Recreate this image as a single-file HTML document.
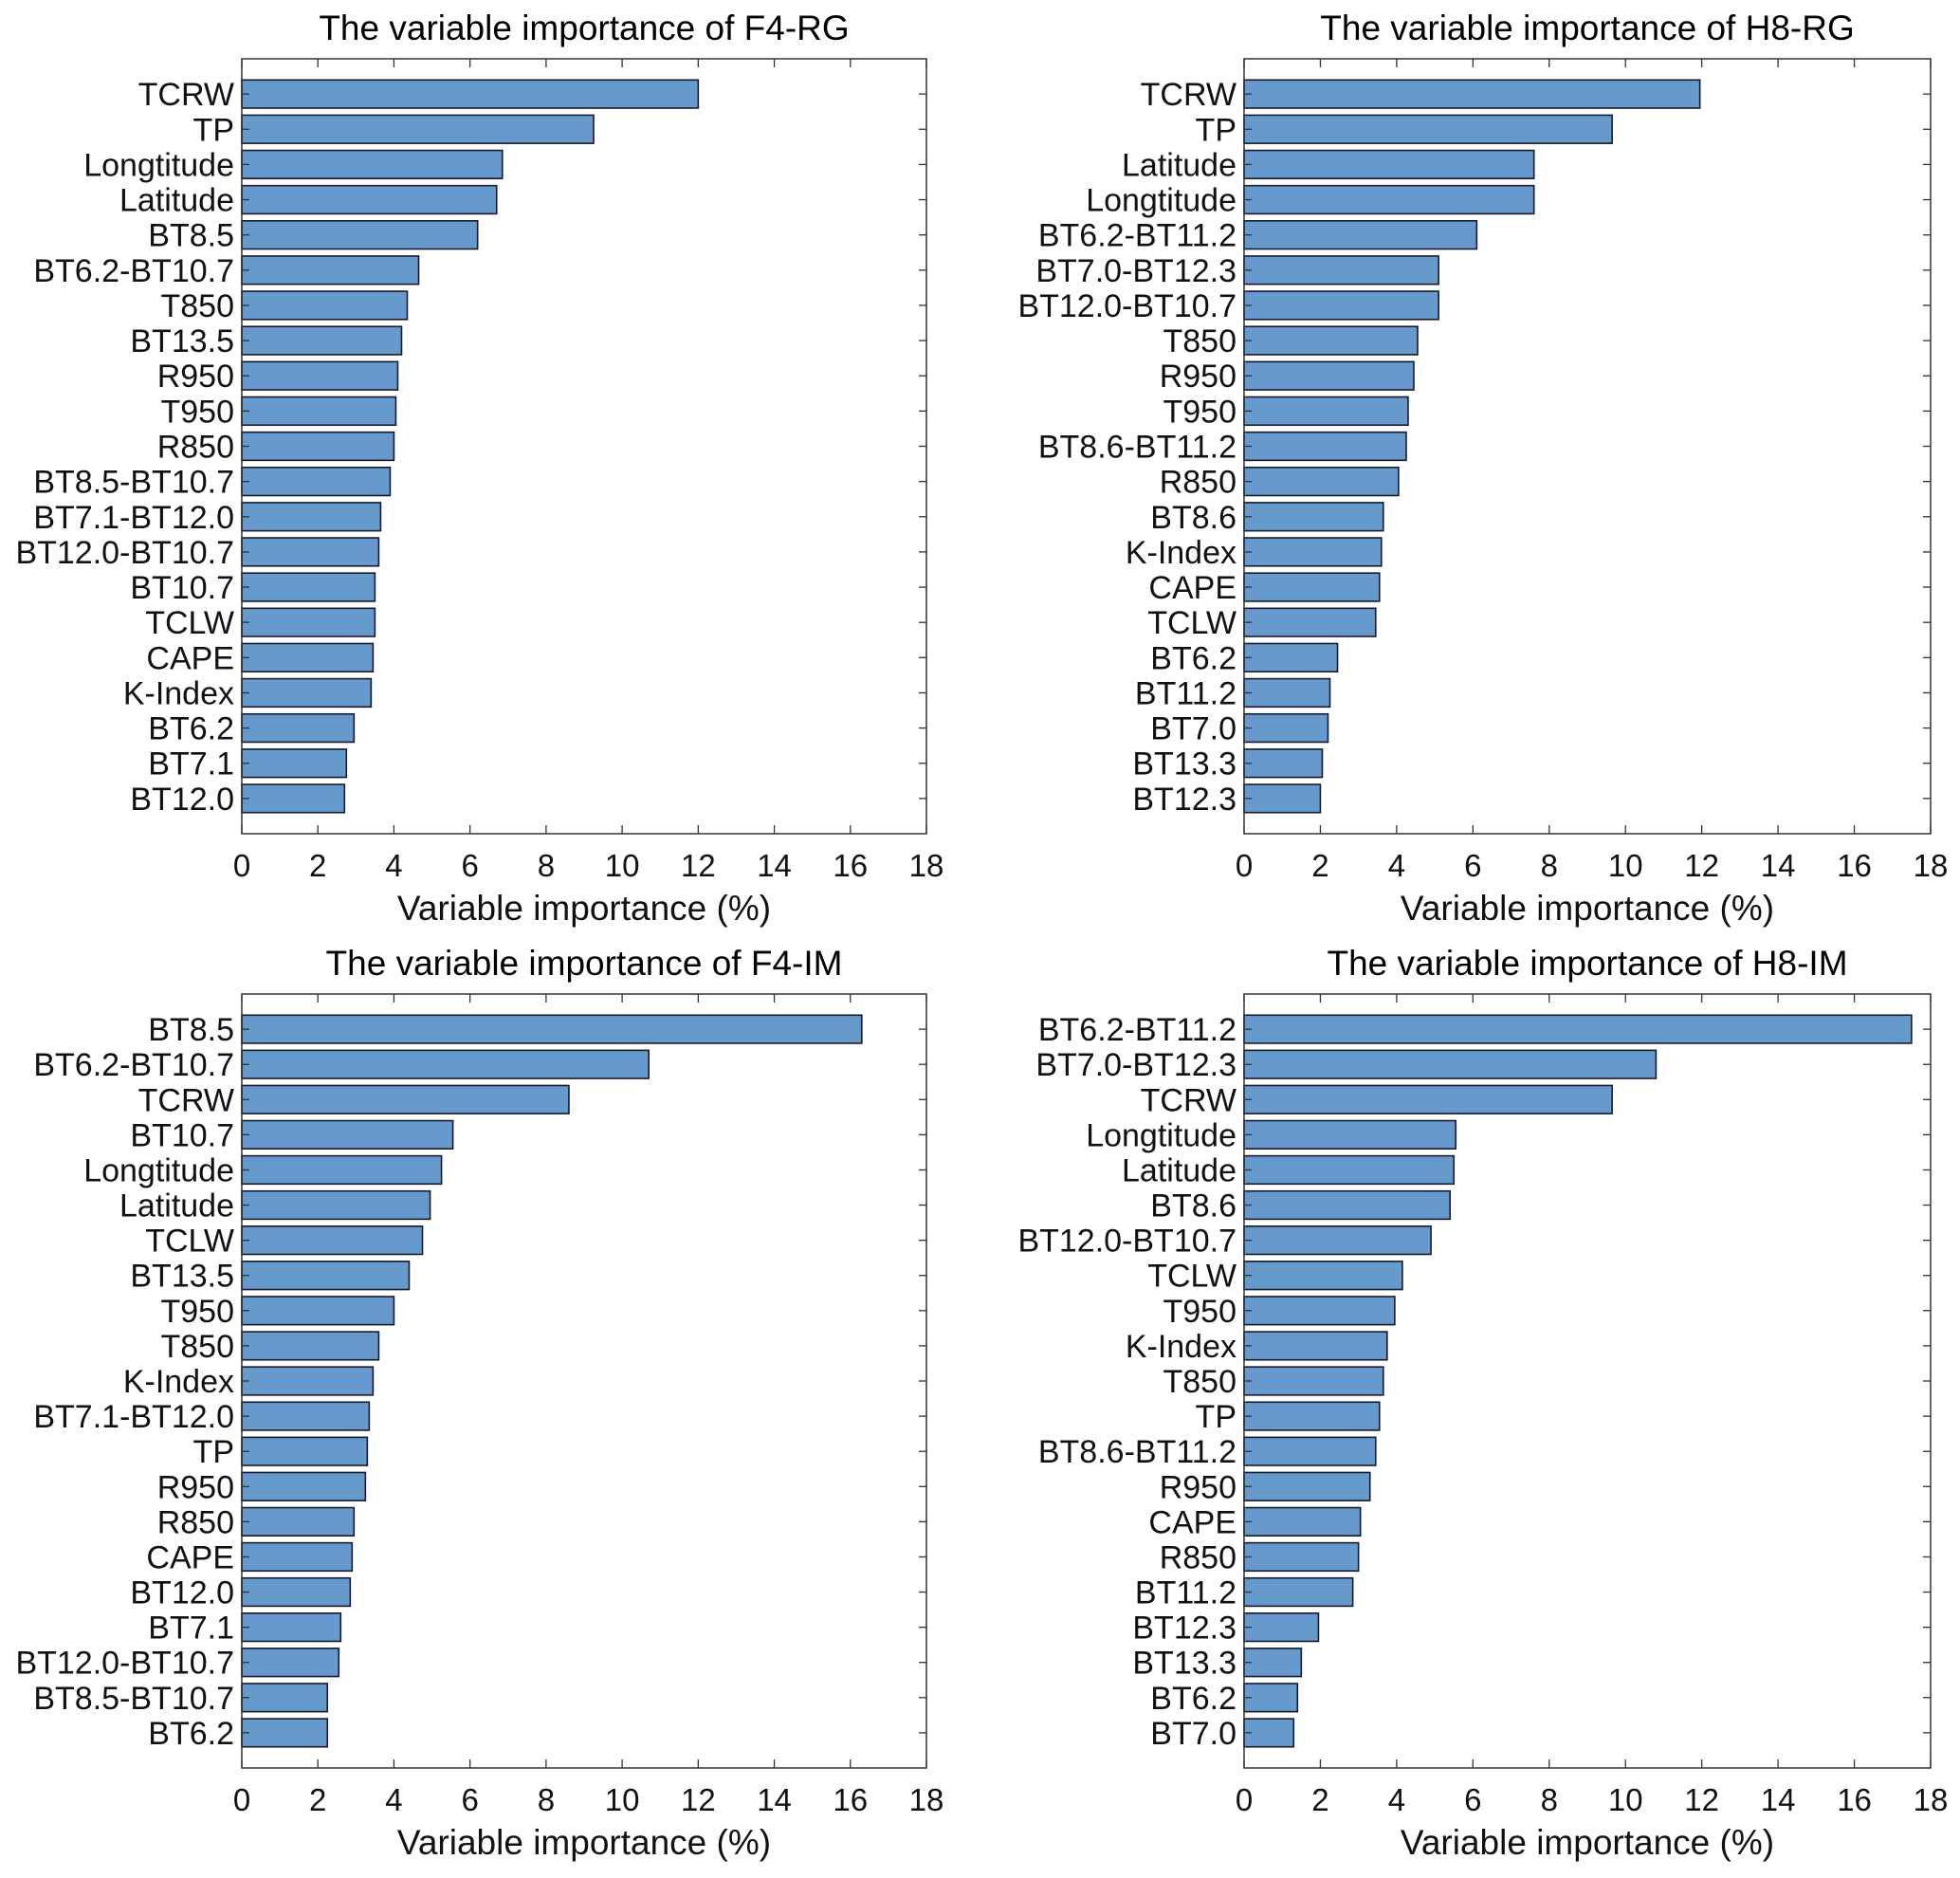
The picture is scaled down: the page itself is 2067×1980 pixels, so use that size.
<!DOCTYPE html>
<html><head><meta charset="utf-8"><style>
html,body{margin:0;padding:0;background:#fff;}
svg{display:block;font-family:"Liberation Sans",Arial,sans-serif;}
</style></head><body>
<svg id="fig" width="2067" height="1980" viewBox="0 0 2067 1980" xmlns="http://www.w3.org/2000/svg"></svg>
<script>
const ticks = [0,2,4,6,8,10,12,14,16,18];
const f4rgLabels = ["TCRW","TP","Longtitude","Latitude","BT8.5","BT6.2-BT10.7","T850","BT13.5","R950","T950","R850","BT8.5-BT10.7","BT7.1-BT12.0","BT12.0-BT10.7","BT10.7","TCLW","CAPE","K-Index","BT6.2","BT7.1","BT12.0"];
const f4rgValues = [12.0,9.25,6.85,6.7,6.2,4.65,4.35,4.2,4.1,4.05,4.0,3.9,3.65,3.6,3.5,3.5,3.45,3.4,2.95,2.75,2.7];
const h8rgLabels = ["TCRW","TP","Latitude","Longtitude","BT6.2-BT11.2","BT7.0-BT12.3","BT12.0-BT10.7","T850","R950","T950","BT8.6-BT11.2","R850","BT8.6","K-Index","CAPE","TCLW","BT6.2","BT11.2","BT7.0","BT13.3","BT12.3"];
const h8rgValues = [11.95,9.65,7.6,7.6,6.1,5.1,5.1,4.55,4.45,4.3,4.25,4.05,3.65,3.6,3.55,3.45,2.45,2.25,2.2,2.05,2.0];
const f4imLabels = ["BT8.5","BT6.2-BT10.7","TCRW","BT10.7","Longtitude","Latitude","TCLW","BT13.5","T950","T850","K-Index","BT7.1-BT12.0","TP","R950","R850","CAPE","BT12.0","BT7.1","BT12.0-BT10.7","BT8.5-BT10.7","BT6.2"];
const f4imValues = [16.3,10.7,8.6,5.55,5.25,4.95,4.75,4.4,4.0,3.6,3.45,3.35,3.3,3.25,2.95,2.9,2.85,2.6,2.55,2.25,2.25];
const h8imLabels = ["BT6.2-BT11.2","BT7.0-BT12.3","TCRW","Longtitude","Latitude","BT8.6","BT12.0-BT10.7","TCLW","T950","K-Index","T850","TP","BT8.6-BT11.2","R950","CAPE","R850","BT11.2","BT12.3","BT13.3","BT6.2","BT7.0"];
const h8imValues = [17.5,10.8,9.65,5.55,5.5,5.4,4.9,4.15,3.95,3.75,3.65,3.55,3.45,3.3,3.05,3.0,2.85,1.95,1.5,1.4,1.3];

const NS = "http://www.w3.org/2000/svg";
const fig = document.getElementById('fig');
function mk(tag, attrs, parent){const e=document.createElementNS(NS,tag);for(const k in attrs)e.setAttribute(k,attrs[k]);parent.appendChild(e);return e;}

function panel(key, title, labels, values, L, R, T, B){
  const g = mk('g',{},fig);
  
  
  const xs = v => L + (v/18)*(R-L);
  const n = labels.length;
  const rowH = (B-T)/(n+1);
  const ys = i => T + (i+1)*rowH;
  const t = mk('text',{x:(L+R)/2,y:T-20,'text-anchor':'middle','font-size':37,fill:'#000'},g);
  t.textContent = title;
  
  
  for(let i=0;i<n;i++){
    const r = mk('rect',{x:xs(0),y:ys(i)-rowH*0.4,width:xs(values[i])-xs(0),height:rowH*0.8,fill:'#6699cc',stroke:'#1a1a2a','stroke-width':1.6},g);
    
    
    const lb = mk('text',{x:L-8,y:ys(i)+12,'text-anchor':'end','font-size':34,fill:'#111'},g);
    lb.textContent = labels[i];
    
    
    mk('line',{x1:L,x2:L+8,y1:ys(i),y2:ys(i),stroke:'#333','stroke-width':1.3},g);
    mk('line',{x1:R,x2:R-8,y1:ys(i),y2:ys(i),stroke:'#333','stroke-width':1.3},g);
  }
  const box = mk('rect',{x:L,y:T,width:R-L,height:B-T,fill:'none',stroke:'#333','stroke-width':1.5},g);
  
  
  for(const tv of ticks){
    const x = xs(tv);
    mk('line',{x1:x,x2:x,y1:B,y2:B-9,stroke:'#333','stroke-width':1.3},g);
    mk('line',{x1:x,x2:x,y1:T,y2:T+9,stroke:'#333','stroke-width':1.3},g);
    const tl = mk('text',{x:x,y:B+45,'text-anchor':'middle','font-size':33,fill:'#111'},g);
    tl.textContent = String(tv);
    
    
  }
  const xl = mk('text',{x:(L+R)/2,y:B+91,'text-anchor':'middle','font-size':37,fill:'#111'},g);
  xl.textContent = 'Variable importance (%)';
  
  
}
panel('f4-rg','The variable importance of F4-RG',f4rgLabels,f4rgValues,255,977,62,879);
panel('h8-rg','The variable importance of H8-RG',h8rgLabels,h8rgValues,1312,2036,62,879);
panel('f4-im','The variable importance of F4-IM',f4imLabels,f4imValues,255,977,1048,1864);
panel('h8-im','The variable importance of H8-IM',h8imLabels,h8imValues,1312,2036,1048,1864);
</script>
</body></html>
